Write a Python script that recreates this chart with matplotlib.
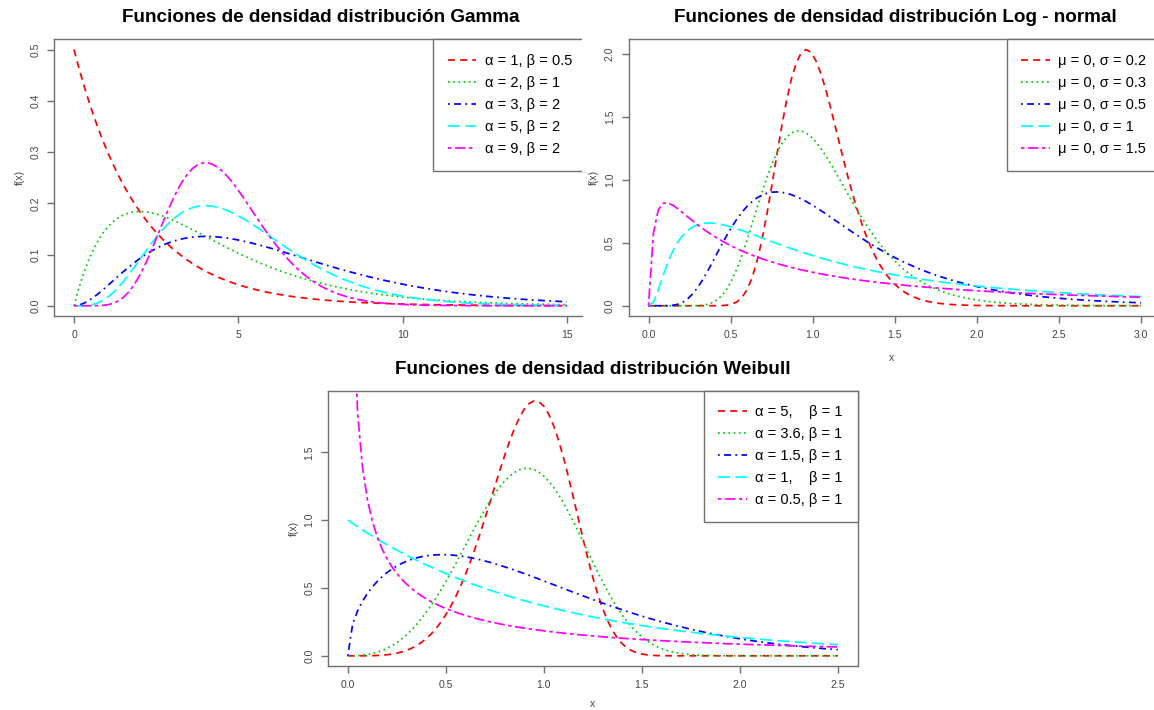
import math
import numpy as np
import matplotlib
matplotlib.use("Agg")
import matplotlib.pyplot as plt
from matplotlib.patches import Rectangle

plt.rcParams['font.family'] = ['Liberation Sans', 'DejaVu Sans']

# ---------------- data (parameters) ----------------
colors = ['#FF0000', '#00CD00', '#0000FF', '#00FFFF', '#FF00FF']
styles = [(0, (4, 3)), (0, (1, 2)), (0, (1, 2.5, 4, 2.5)), (0, (7, 3)), (0, (2, 2, 6, 2))]

gamma_shape = [1, 2, 3, 5, 9]
gamma_rate = [0.5, 0.5, 0.5, 1, 2]
gamma_labels = ['α = 1, β = 0.5', 'α = 2, β = 1', 'α = 3, β = 2', 'α = 5, β = 2', 'α = 9, β = 2']
gamma_xmax = 15
gamma_xticks = [0, 5, 10, 15]
gamma_yticks = [0.0, 0.1, 0.2, 0.3, 0.4, 0.5]

ln_mu = [0, 0, 0, 0, 0]
ln_sigma = [0.2, 0.3, 0.5, 1, 1.5]
ln_labels = ['μ = 0, σ = 0.2', 'μ = 0, σ = 0.3', 'μ = 0, σ = 0.5', 'μ = 0, σ = 1', 'μ = 0, σ = 1.5']
ln_xmax = 3
ln_xticks = [0.0, 0.5, 1.0, 1.5, 2.0, 2.5, 3.0]
ln_yticks = [0.0, 0.5, 1.0, 1.5, 2.0]

wb_shape = [5, 3.6, 1.5, 1, 0.5]
wb_scale = [1, 1, 1, 1, 1]
wb_labels = ['α = 5,    β = 1', 'α = 3.6, β = 1', 'α = 1.5, β = 1', 'α = 1,    β = 1', 'α = 0.5, β = 1']
wb_xmax = 2.5
wb_xticks = [0.0, 0.5, 1.0, 1.5, 2.0, 2.5]
wb_yticks = [0.0, 0.5, 1.0, 1.5]

N = 101


def dgamma(x, a, r):
    with np.errstate(divide='ignore', invalid='ignore'):
        return r ** a * np.power(x, a - 1.0) * np.exp(-r * x) / math.gamma(a)


def dlnorm(x, m, s):
    out = np.zeros_like(x)
    p = x > 0
    out[p] = np.exp(-(np.log(x[p]) - m) ** 2 / (2 * s * s)) / (x[p] * s * math.sqrt(2 * math.pi))
    return out


def dweibull(x, k, lam):
    with np.errstate(divide='ignore', invalid='ignore'):
        y = (k / lam) * np.power(x / lam, k - 1.0) * np.exp(-np.power(x / lam, k))
    return y


W, H = 1154, 710
fig = plt.figure(figsize=(W / 100, H / 100), dpi=100)


def make_ax(left, right, top, bottom):
    return fig.add_axes([left / W, 1 - bottom / H, (right - left) / W, (bottom - top) / H])


def style_ax(ax, xticks, yticks, xfmt, yfmt, right_spine=True):
    for s in ax.spines.values():
        s.set_color('#707070')
        s.set_linewidth(1.0)
    if not right_spine:
        ax.spines['right'].set_visible(False)
    ax.set_xticks(xticks)
    ax.set_xticklabels([xfmt(v) for v in xticks])
    ax.set_yticks(yticks)
    ax.set_yticklabels([yfmt(v) for v in yticks], rotation=90, va='center')
    ax.tick_params(direction='out', length=5, width=1.0, color='#707070',
                   labelsize=7.5, labelcolor='#444444', pad=5)


def add_legend(ax, labels, xanchor=1.0):
    leg = ax.legend(labels=labels, loc='upper right', bbox_to_anchor=(xanchor, 1),
                    borderaxespad=0, fancybox=False, framealpha=1, edgecolor='#707070',
                    fontsize=10.5, handlelength=1.95, handletextpad=0.6,
                    labelspacing=0.55, borderpad=1.0)
    leg.get_frame().set_linewidth(1.0)
    return leg


title_kw = dict(fontsize=13.6, fontweight='bold', color='black')

# ---------------- Gamma ----------------
g_left, g_right, g_full_right = 54.3, 581.5, 587.0
ax1 = make_ax(g_left, g_right, 39.3, 316)
xg = np.linspace(0, gamma_xmax, N)
for a, r, c, ls in zip(gamma_shape, gamma_rate, colors, styles):
    ax1.plot(xg, dgamma(xg, a, r), color=c, linestyle=ls, lw=1.25)
y0 = dgamma(xg, gamma_shape[0], gamma_rate[0])
ymx = np.nanmax(y0[np.isfinite(y0)])
px = (567 - 74) / gamma_xmax
ax1.set_xlim((g_left - 74) / px, (g_right - 74) / px)
ax1.set_ylim(-0.04 * ymx, 1.04 * ymx)
style_ax(ax1, gamma_xticks, gamma_yticks, lambda v: f'{v:g}', lambda v: f'{v:.1f}', right_spine=False)
ax1.set_ylabel('f(x)', fontsize=7.5, color='#444444', labelpad=4)
add_legend(ax1, gamma_labels, xanchor=(g_full_right - g_left) / (g_right - g_left))
fig.text(320.5 / W, 1 - 17.5 / H, 'Funciones de densidad distribución Gamma', ha='center', va='center', **title_kw)
# the original panel is cropped on its right side
fig.patches.append(Rectangle((g_right / W + 0.0004, 1 - 172 / H), (589.5 - g_right) / W, 145 / H,
                             transform=fig.transFigure, facecolor='white', edgecolor='none', zorder=20))

# ---------------- Log-normal ----------------
l_left, l_right, l_full_right = 628.7, 1154, 1161
ax2 = make_ax(l_left, l_right, 39.3, 316)
xl = np.linspace(0, ln_xmax, N)
for m, s, c, ls in zip(ln_mu, ln_sigma, colors, styles):
    ax2.plot(xl, dlnorm(xl, m, s), color=c, linestyle=ls, lw=1.25)
y0 = dlnorm(xl, ln_mu[0], ln_sigma[0])
ymx = y0.max()
px = (1141 - 648.5) / ln_xmax
ax2.set_xlim((l_left - 648.5) / px, (l_right - 648.5) / px)
ax2.set_ylim(-0.04 * ymx, 1.04 * ymx)
style_ax(ax2, ln_xticks, ln_yticks, lambda v: f'{v:.1f}', lambda v: f'{v:.1f}', right_spine=False)
ax2.set_ylabel('f(x)', fontsize=7.5, color='#444444', labelpad=4)
ax2.set_xlabel('x', fontsize=7.5, color='#444444', labelpad=9.5)
add_legend(ax2, ln_labels, xanchor=(l_full_right - l_left) / (l_right - l_left))
fig.text(895 / W, 1 - 17.5 / H, 'Funciones de densidad distribución Log - normal', ha='center', va='center', **title_kw)

# ---------------- Weibull ----------------
ax3 = make_ax(328.2, 857.5, 390.7, 666)
xw = np.linspace(0, wb_xmax, N)
for k, lam, c, ls in zip(wb_shape, wb_scale, colors, styles):
    ax3.plot(xw, dweibull(xw, k, lam), color=c, linestyle=ls, lw=1.25)
y0 = dweibull(xw, wb_shape[0], wb_scale[0])
ymx = np.nanmax(y0[np.isfinite(y0)])
ax3.set_xlim(-0.04 * wb_xmax, 1.04 * wb_xmax)
ax3.set_ylim(-0.04 * ymx, 1.04 * ymx)
style_ax(ax3, wb_xticks, wb_yticks, lambda v: f'{v:.1f}', lambda v: f'{v:.1f}')
ax3.set_ylabel('f(x)', fontsize=7.5, color='#444444', labelpad=4)
ax3.set_xlabel('x', fontsize=7.5, color='#444444', labelpad=6.5)
add_legend(ax3, wb_labels)
fig.text(593 / W, 1 - 369.5 / H, 'Funciones de densidad distribución Weibull', ha='center', va='center', **title_kw)

fig.savefig('out.png', dpi=100, facecolor='white')
